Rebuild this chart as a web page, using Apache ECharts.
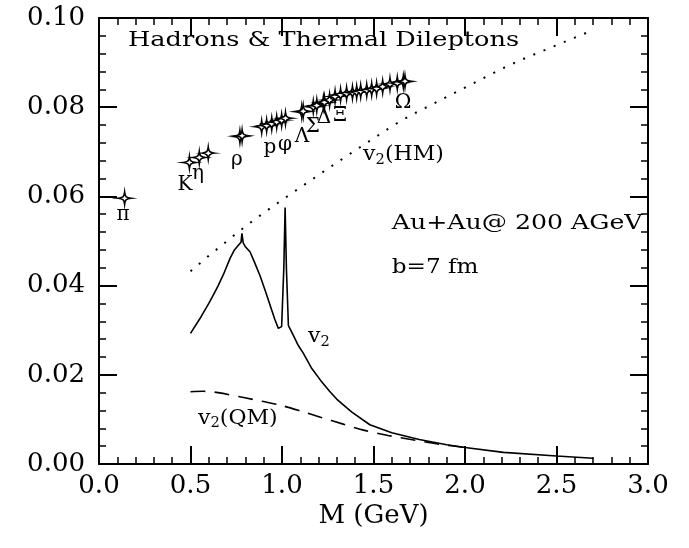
<!DOCTYPE html>
<html>
<head>
<meta charset="utf-8">
<script src="https://cdn.jsdelivr.net/npm/echarts@6/dist/echarts.min.js"></script>
<style>html,body{margin:0;padding:0;background:#fff}#c{width:689px;height:548px}</style>
</head>
<body>
<div id="c"></div>
<script>
// ---- data ----
const vTotal = [ // [M (GeV), v2] solid line
  [0.50,0.0293],[0.55,0.0325],[0.60,0.0360],[0.625,0.0379],[0.65,0.0399],[0.68,0.0425],
  [0.716,0.0461],[0.74,0.0480],[0.765,0.0492],[0.776,0.0497],[0.781,0.0517],[0.788,0.0496],
  [0.80,0.0487],[0.825,0.0476],[0.85,0.0452],[0.88,0.0422],[0.91,0.0387],[0.934,0.0357],
  [0.96,0.0325],[0.98,0.0304],[0.998,0.0308],[1.010,0.0440],[1.017,0.0575],[1.024,0.0440],
  [1.035,0.0310],[1.06,0.0290],[1.09,0.0265],[1.117,0.0248],[1.16,0.0216],[1.21,0.0188],
  [1.26,0.0163],[1.30,0.0145],[1.38,0.0117],[1.48,0.0088],[1.60,0.0070],[1.75,0.0055],
  [1.90,0.0043],[2.00,0.0037],[2.21,0.0026],[2.50,0.0018],[2.70,0.0013]
];
const vQM = [ // dashed
  [0.50,0.0162],[0.57,0.0163],[0.65,0.0160],[0.79,0.0149],[0.90,0.0140],[0.99,0.0132],
  [1.10,0.0119],[1.21,0.0105],[1.33,0.0090],[1.445,0.0076],[1.58,0.0064],[1.72,0.0054],
  [1.85,0.0045],[2.00,0.0037]
];
const vHM = [ // dotted
  [0.5,0.0432],[0.6,0.0467],[0.7,0.0500],[0.8,0.0533],[0.9,0.0563],[1.0,0.0592],
  [1.1,0.0620],[1.2,0.0648],[1.3,0.0676],[1.4,0.0703],[1.5,0.0730],[1.6,0.0757],
  [1.7,0.0781],[1.8,0.0802],[1.9,0.0823],[2.0,0.0844],[2.1,0.0865],[2.2,0.0886],
  [2.3,0.0905],[2.4,0.0922],[2.5,0.0939],[2.6,0.0956],[2.7,0.0973]
];
const hadrons = [ // [mass, v2]
  [0.14,0.0596],[0.494,0.0676],[0.548,0.0687],[0.597,0.0697],[0.770,0.0734],[0.782,0.0736],
  [0.889,0.0756],[0.916,0.0759],[0.944,0.0763],[0.971,0.0767],[0.998,0.0771],[1.019,0.0775],
  [1.108,0.0790],[1.116,0.0791],[1.171,0.0801],[1.19,0.0804],[1.226,0.0810],[1.232,0.0811],
  [1.26,0.0816],[1.29,0.0824],[1.32,0.0828],[1.353,0.0831],[1.385,0.0833],[1.408,0.0834],
  [1.43,0.0836],[1.463,0.0838],[1.49,0.0840],[1.517,0.0842],[1.55,0.0846],[1.59,0.0852],
  [1.63,0.0854],[1.663,0.0857],[1.672,0.0858]
];
const hadronNames = ['π','K','η','ρ','p','φ','Λ','Σ','Δ','Ξ','Ω'];
const hadronNamePos = [[0.131,0.0558],[0.47,0.0626],[0.541,0.0650],[0.754,0.0682],[0.934,0.0709],
  [1.016,0.0715],[1.109,0.0733],[1.169,0.0756],[1.23,0.0776],[1.317,0.0780],[1.661,0.0809]];
const xTicks = [0.0,0.5,1.0,1.5,2.0,2.5,3.0];
const yTicks = [0.00,0.02,0.04,0.06,0.08,0.10];
const titleText = 'Hadrons & Thermal Dileptons';
const xName = 'M (GeV)';
const notes = [ // rich text, anchor [M, v2] (left, middle)
  '{n|v}{s|2}{n|(HM)}',
  '{n|v}{s|2}',
  '{n|v}{s|2}{n|(QM)}',
  'Au+Au@ 200 AGeV',
  'b=7 fm'
];
const notePos = [[1.443,0.0693],[1.142,0.0285],[0.541,0.0103],[1.60,0.0540],[1.60,0.0440]];
const noteStretch = [1.05,1.05,1.05,1.2,1.1];

// ---- chart ----
const FONT = 'DejaVu Serif';
const BLK = '#000';
const rich = {
  n:{fontFamily:FONT,fontSize:21,fill:BLK,color:BLK},
  s:{fontFamily:FONT,fontSize:14,fill:BLK,color:BLK,padding:[11,0,0,0]}
};
const starPath = 'path://M0,-10 C1,-3 3,-1 13,0 C3,1 1,3 0,10 C-1,3 -3,1 -13,0 C-3,-1 -1,-3 0,-10 Z';

function axisCommon(isX, showLabel){
  return {
    type:'value',
    min: 0, max: isX?3:0.1, interval: isX?0.5:0.02,
    axisLine:{show:true,onZero:false,lineStyle:{color:BLK,width:2}},
    axisTick:{show:true,inside:true,length:18,lineStyle:{color:BLK,width:2}},
    minorTick:{show:true,splitNumber:5,length:7,lineStyle:{color:BLK,width:1.5}},
    splitLine:{show:false},
    axisLabel:{show:showLabel,color:BLK,fontFamily:FONT,fontSize:26,margin:isX?9:14,
      showMinLabel:true,showMaxLabel:true,
      formatter: v => isX ? v.toFixed(1) : v.toFixed(2)}
  };
}

const chart = echarts.init(document.getElementById('c'), null, {renderer:'canvas'});
const xMain = axisCommon(true,true);
xMain.name = xName; xMain.nameLocation='middle'; xMain.nameGap=39; xMain.nameMoveOverlap=false;
xMain.nameTextStyle={color:BLK,fontFamily:FONT,fontSize:26};
const xTop = axisCommon(true,false); xTop.position='top';
const yMain = axisCommon(false,true);
const yRight = axisCommon(false,false); yRight.position='right';

chart.setOption({
  animation:false,
  backgroundColor:'#fff',
  grid:{left:99,right:41,top:18,bottom:84,containLabel:false},
  xAxis:[xMain,xTop],
  yAxis:[yMain,yRight],
  series:[
    {type:'line',data:vHM,showSymbol:false,symbol:'none',lineStyle:{color:BLK,width:2,type:[2,9]}},
    {type:'line',data:vQM,showSymbol:false,symbol:'none',smooth:0.3,lineStyle:{color:BLK,width:1.6,type:[15,9]}},
    {type:'line',data:vTotal,showSymbol:false,symbol:'none',lineStyle:{color:BLK,width:1.6}},
    {type:'scatter',data:hadrons,symbol:starPath,symbolSize:[13,11],
      itemStyle:{color:'#fff',borderColor:BLK,borderWidth:1.6,opacity:1}},
    {type:'scatter',symbolSize:0,silent:true,itemStyle:{opacity:1},
      data:hadronNames.map((t,i)=>({value:hadronNamePos[i],name:t})),
      label:{show:true,position:'inside',formatter:p=>p.name,fontFamily:FONT,fontSize:20,color:BLK}}
  ]
});

// text annotations anchored through the axes' scales
const graphics = [{
  type:'text', x:128, y:41, scaleX:1.22, silent:true,
  style:{text:titleText, fontFamily:FONT, fontSize:21, fill:BLK, align:'left', verticalAlign:'middle'}
}];
notes.forEach((t,i)=>{
  const p = chart.convertToPixel({gridIndex:0}, notePos[i]);
  graphics.push({
    type:'text', x:p[0], y:p[1], scaleX:noteStretch[i], silent:true,
    style:{text:t.indexOf('{')>=0?t:'{n|'+t+'}', rich:rich, fontFamily:FONT, fontSize:21, fill:BLK,
      align:'left', verticalAlign:'middle'}
  });
});
chart.setOption({graphic:graphics});
</script>
</body>
</html>
